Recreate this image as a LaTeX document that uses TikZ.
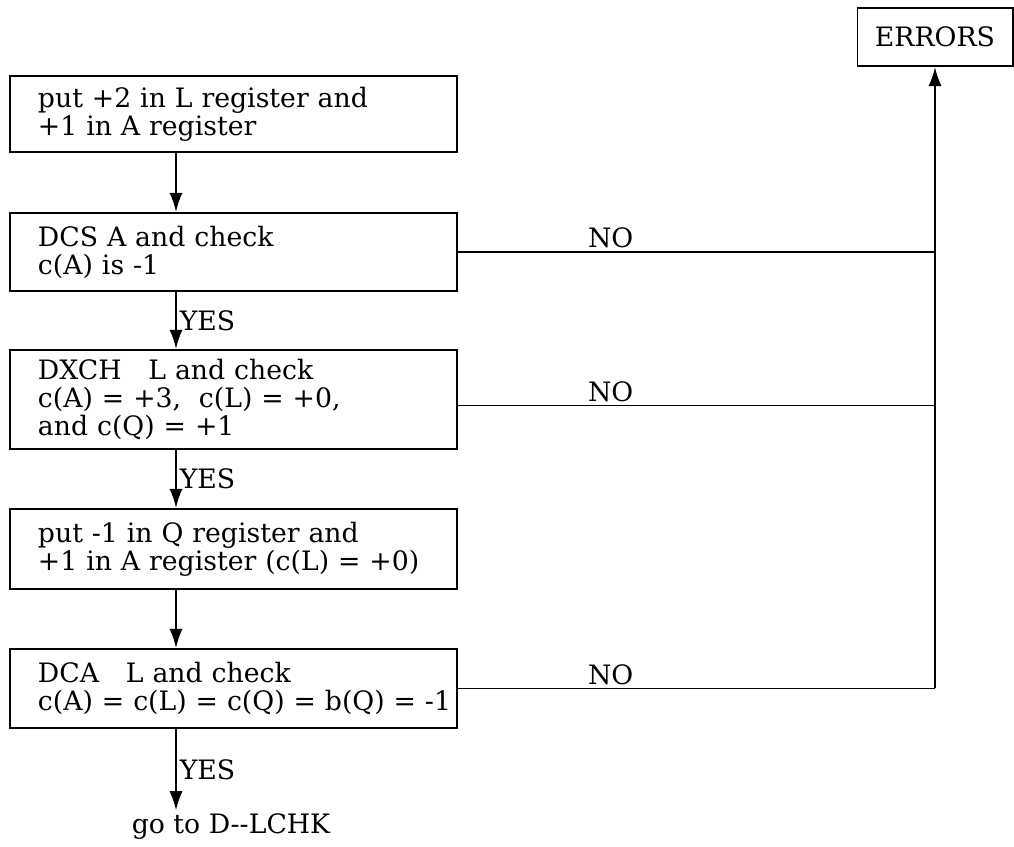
\documentclass[tikz,border=0pt]{standalone}
\usepackage{fontspec}
\setmainfont{DejaVu Serif}
\usetikzlibrary{arrows.meta}

\begin{document}
\begin{tikzpicture}[x=0.025cm, y=-0.025cm, >={Latex[length=4.8mm,width=3.3mm]},
    line width=1.4pt,
    stepbox/.style={draw, anchor=north west, align=left, text width=9.775cm,
        inner xsep=0.7cm, inner ysep=0pt, font=\fontsize{19}{20}\selectfont},
    lbl/.style={font=\fontsize{19}{20}\selectfont, inner sep=2pt}]
        \useasboundingbox (0,0) rectangle (1014,847);
        % ==== BOXES ====
        \node[stepbox, minimum height=1.9cm] (b1) at (9,75)
            {put +2 in L register and\\+1 in A register};
        \node[stepbox, minimum height=1.95cm] (b2) at (9,212)
            {DCS A and check\\c(A) is -1};
        \node[stepbox, minimum height=2.475cm] (b3) at (9,349)
            {DXCH\quad L and check\\c(A) = +3,\ \ c(L) = +0,\\and c(Q) = +1};
        \node[stepbox, minimum height=2cm] (b4) at (9,508)
            {put -1 in Q register and\\+1 in A register (c(L) = +0)};
        \node[stepbox, minimum height=1.975cm] (b5) at (9,648)
            {DCA\quad L and check\\\mbox{c(A) = c(L) = c(Q) = b(Q) = -1}};
        \node[draw, lbl, minimum width=3.875cm, minimum height=1.45cm] (err) at (935,37) {ERRORS};
        \node[lbl] (goto) at (231,827) {go to D-{}-LCHK};
        \coordinate (spine) at (176,0);

        % ==== YES PATH ====
        \draw[->] (b1.south -| spine) -- (b2.north -| spine);
        \draw[->] (b2.south -| spine) -- node[right, lbl] {YES} (b3.north -| spine);
        \draw[->] (b3.south -| spine) -- node[right, lbl] {YES} (b4.north -| spine);
        \draw[->] (b4.south -| spine) -- (b5.north -| spine);
        \draw[->] (b5.south -| spine) -- node[right, lbl] {YES} (goto.north -| spine);

        % ==== NO PATH ====
        \draw (b2.east) -- node[above, lbl, pos=0.32] {NO} (b2.east -| err.south);
        \draw ([yshift=-0.15cm]b3.east) -- node[above, lbl, pos=0.32] {NO} ([yshift=-0.15cm]b3.east -| err.south);
        \draw (b5.east) -- node[above, lbl, pos=0.32] {NO} (b5.east -| err.south);
        \draw[->] (b5.east -| err.south) -- (err.south);
     \end{tikzpicture}
\end{document}
